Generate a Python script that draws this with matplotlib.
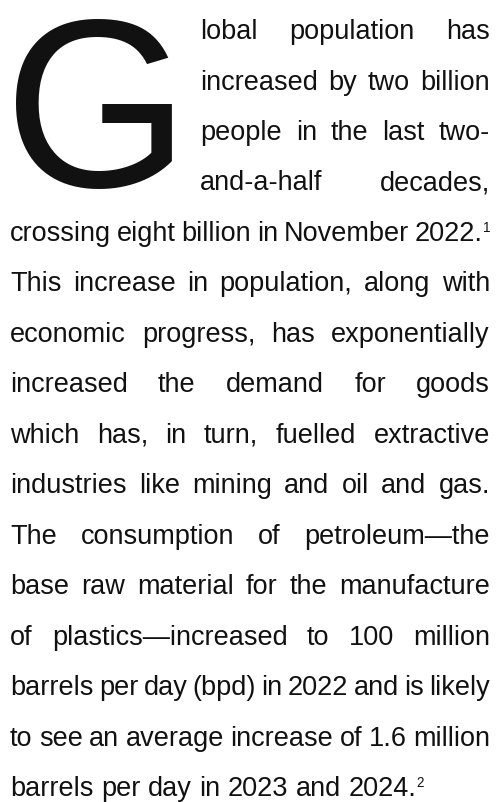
import matplotlib
matplotlib.use('Agg')
import matplotlib.pyplot as plt

# paragraph text, line by line as set in the reference
drop_cap = 'G'
lines = [
    'lobal population has',
    'increased by two billion',
    'people in the last two-',
    'and-a-half decades,',
    'crossing eight billion in November 2022.',
    'This increase in population, along with',
    'economic progress, has exponentially',
    'increased the demand for goods',
    'which has, in turn, fuelled extractive',
    'industries like mining and oil and gas.',
    'The consumption of petroleum\u2014the',
    'base raw material for the manufacture',
    'of plastics\u2014increased to 100 million',
    'barrels per day (bpd) in 2022 and is likely',
    'to see an average increase of 1.6 million',
    'barrels per day in 2023 and 2024.',
]
footnotes = {4: '1', 15: '2'}

W, H = 497, 803
FONT = 'Liberation Sans'
COLOR = '#111111'
SIZE = 19.5          # body text, points
LEFT, RIGHT = 10, 490
CAP_INDENT = 200     # text start next to the drop cap
N_CAP = 4            # lines beside the drop cap
TOP, LEAD = 39, 50.5


def draw_line(ax, renderer, text, x0, x1, y, justify, mark=None):
    words = text.split(' ')
    objs = [ax.text(0, y, w, fontsize=SIZE, family=FONT, color=COLOR,
                    ha='left', va='baseline') for w in words]
    widths = [t.get_window_extent(renderer).width for t in objs]
    m = None
    mark_w = 0
    if mark:
        m = ax.text(0, y - 9, mark, fontsize=SIZE * 0.5, family=FONT,
                    color=COLOR, ha='left', va='baseline')
        mark_w = m.get_window_extent(renderer).width
    a = ax.text(0, 0, 'a a', fontsize=SIZE, family=FONT)
    b = ax.text(0, 0, 'aa', fontsize=SIZE, family=FONT)
    space = a.get_window_extent(renderer).width - b.get_window_extent(renderer).width
    a.remove()
    b.remove()
    if justify and len(words) > 1:
        gap = (x1 - x0 - sum(widths) - mark_w) / (len(words) - 1)
        gap = max(gap, space * 0.6)
    else:
        gap = space
    x = x0
    for t, w in zip(objs, widths):
        t.set_x(x)
        x += w + gap
    if m is not None:
        m.set_x(x - gap)


def main():
    fig = plt.figure(figsize=(W / 100, H / 100), dpi=100)
    ax = fig.add_axes([0, 0, 1, 1])
    ax.set_xlim(0, W)
    ax.set_ylim(H, 0)
    ax.axis('off')
    renderer = fig.canvas.get_renderer()

    # drop cap
    ax.text(LEFT - 6, 187, drop_cap, fontsize=172, family=FONT, color=COLOR,
            ha='left', va='baseline')

    for i, line in enumerate(lines):
        y = TOP + i * LEAD
        x0 = CAP_INDENT if i < N_CAP else LEFT
        justify = i < len(lines) - 1
        draw_line(ax, renderer, line, x0, RIGHT, y, justify, footnotes.get(i))

    fig.savefig('out.png', dpi=100, facecolor='white')


if __name__ == '__main__':
    main()
